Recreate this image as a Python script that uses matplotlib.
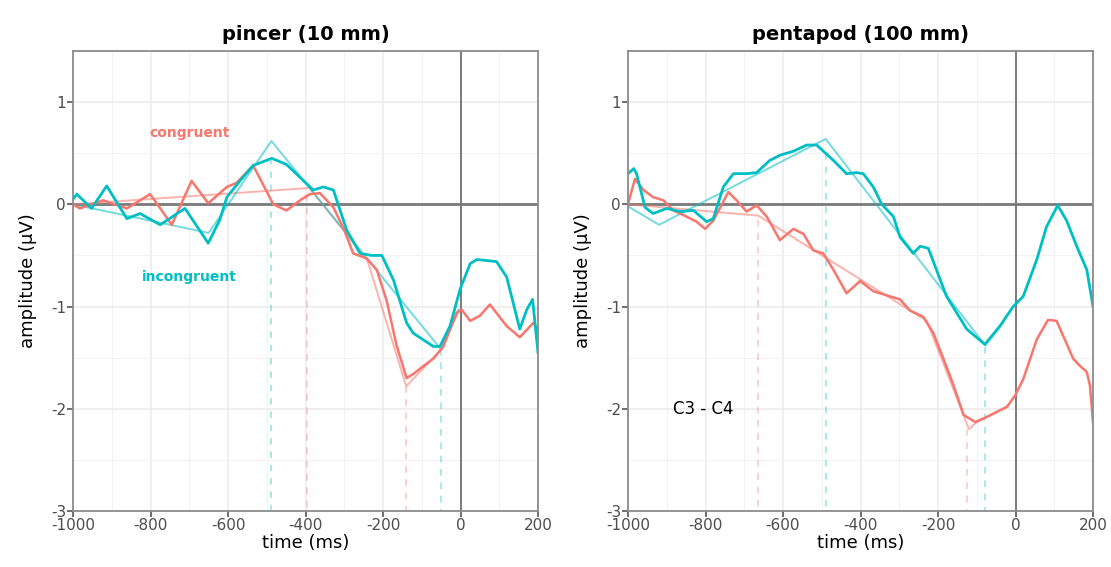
import matplotlib.pyplot as plt
from matplotlib.ticker import MultipleLocator

plt.rcParams['axes.unicode_minus'] = False

RED = '#F8766D'
CYAN = '#00BFC4'

# ---- pincer (10 mm) ----
p_t_con = [-1000, -982, -922, -861, -801, -745, -694, -651, -603, -578, -535, -483, -449,
           -410, -388, -363, -328, -300, -277, -242, -216, -190, -165, -139, -122, -95,
           -70, -44, -10, 3, 25, 50, 76, 119, 153, 188, 200]
p_v_con = [0.0, -0.04, 0.04, -0.04, 0.1, -0.2, 0.23, 0.01, 0.17, 0.21, 0.38, 0.0, -0.06,
           0.05, 0.10, 0.11, -0.03, -0.25, -0.48, -0.53, -0.64, -0.95, -1.38, -1.70,
           -1.66, -1.58, -1.51, -1.39, -1.06, -1.03, -1.14, -1.09, -0.98, -1.19, -1.3,
           -1.16, -1.22]
p_t_inc = [-1000, -990, -952, -913, -861, -827, -775, -711, -651, -621, -603, -569, -535,
           -487, -449, -380, -354, -328, -294, -259, -229, -203, -173, -139, -122, -70,
           -53, -27, -1, 25, 42, 93, 119, 153, 171, 186, 200]
p_v_inc = [0.05, 0.10, -0.04, 0.18, -0.14, -0.09, -0.2, -0.04, -0.38, -0.15, 0.07, 0.23,
           0.38, 0.45, 0.39, 0.14, 0.17, 0.14, -0.25, -0.48, -0.5, -0.5, -0.74, -1.16,
           -1.26, -1.39, -1.39, -1.19, -0.83, -0.58, -0.54, -0.56, -0.71, -1.22, -1.03,
           -0.93, -1.45]
p_fit_t_con = [-1000, -390, -240, -140, -50, -5]
p_fit_v_con = [0.0, 0.16, -0.55, -1.78, -1.42, -1.05]
p_fit_t_inc = [-1000, -650, -488, -50, -5]
p_fit_v_inc = [0.0, -0.28, 0.62, -1.42, -1.03]
p_dash_con = [(-395, 0.1), (-140, -1.78)]
p_dash_inc = [(-488, 0.45), (-50, -1.42)]

# ---- pentapod (100 mm) ----
q_t_con = [-1000, -982, -960, -935, -909, -883, -849, -823, -801, -780, -741, -720, -694,
           -668, -642, -608, -573, -547, -522, -496, -470, -436, -401, -367, -324, -298,
           -272, -238, -212, -186, -160, -134, -104, -74, -22, -1, 20, 55, 84, 106, 149,
           166, 184, 192, 200]
q_v_con = [0.0, 0.25, 0.14, 0.07, 0.04, -0.06, -0.12, -0.17, -0.24, -0.16, 0.12, 0.04,
           -0.07, -0.01, -0.12, -0.35, -0.24, -0.29, -0.45, -0.48, -0.64, -0.87, -0.75,
           -0.85, -0.9, -0.93, -1.04, -1.1, -1.26, -1.51, -1.77, -2.06, -2.13, -2.08,
           -1.98, -1.87, -1.71, -1.32, -1.13, -1.14, -1.51, -1.58, -1.64, -1.77, -2.13]
q_t_inc = [-1000, -985, -978, -956, -935, -900, -866, -831, -797, -780, -754, -728, -694,
           -668, -634, -608, -573, -539, -513, -496, -470, -436, -410, -393, -367, -345,
           -315, -298, -264, -246, -225, -178, -126, -79, -40, -6, 20, 55, 80, 109, 132,
           158, 184, 200]
q_v_inc = [0.3, 0.35, 0.3, -0.03, -0.09, -0.04, -0.07, -0.06, -0.17, -0.14, 0.17, 0.3,
           0.3, 0.31, 0.43, 0.48, 0.52, 0.58, 0.58, 0.52, 0.43, 0.3, 0.31, 0.3, 0.17, 0.0,
           -0.12, -0.32, -0.48, -0.41, -0.43, -0.9, -1.22, -1.37, -1.19, -1.0, -0.9,
           -0.54, -0.22, -0.01, -0.16, -0.41, -0.64, -1.0]
q_fit_t_con = [-1000, -664, -229, -120, -100, -20]
q_fit_v_con = [0.0, -0.11, -1.14, -2.2, -2.13, -1.98]
q_fit_t_inc = [-1000, -920, -490, -78, -40]
q_fit_v_inc = [-0.02, -0.2, 0.64, -1.38, -1.2]
q_dash_con = [(-665, -0.15), (-125, -2.2)]
q_dash_inc = [(-490, 0.5), (-78, -1.4)]

fig = plt.figure(figsize=(11.11, 5.67), dpi=100)
ax1 = fig.add_axes([73/1111, 1-511/567, 465/1111, 460/567])
ax2 = fig.add_axes([628/1111, 1-511/567, 465/1111, 460/567])


def panel(ax, title, tc, vc, ti, vi, ftc, fvc, fti, fvi, dc, di):
    ax.set_xlim(-1000, 200)
    ax.set_ylim(-3, 1.5)
    ax.xaxis.set_major_locator(MultipleLocator(200))
    ax.xaxis.set_minor_locator(MultipleLocator(100))
    ax.yaxis.set_major_locator(MultipleLocator(1))
    ax.yaxis.set_minor_locator(MultipleLocator(0.5))
    ax.grid(which='major', color='#ebebeb', lw=1.1)
    ax.grid(which='minor', color='#f2f2f2', lw=0.7)
    ax.set_axisbelow(True)
    ax.axhline(0, color='#7a7a7a', lw=2, zorder=1)
    ax.axvline(0, color='#7a7a7a', lw=1.4, zorder=1)
    for t, v in dc:
        ax.plot([t, t], [v, -3], color=RED, lw=1.2, ls=(0, (4, 4)), alpha=0.4)
    for t, v in di:
        ax.plot([t, t], [v, -3], color=CYAN, lw=1.2, ls=(0, (4, 4)), alpha=0.4)
    ax.plot(ftc, fvc, color=RED, lw=1.4, alpha=0.55)
    ax.plot(fti, fvi, color=CYAN, lw=1.4, alpha=0.55)
    ax.plot(tc, vc, color=RED, lw=1.8)
    ax.plot(ti, vi, color=CYAN, lw=2.0)
    for s in ax.spines.values():
        s.set_color('#8c8c8c')
        s.set_linewidth(1.3)
    ax.tick_params(which='major', colors='#555555', labelsize=11, length=4, width=1.2,
                   labelcolor='#4d4d4d', pad=1)
    ax.tick_params(which='minor', length=0)
    ax.set_title(title, fontsize=14, fontweight='bold', pad=8)
    ax.set_xlabel('time (ms)', fontsize=13, labelpad=1)
    ax.set_ylabel('amplitude (\u03bcV)', fontsize=13, labelpad=10)


panel(ax1, 'pincer (10 mm)', p_t_con, p_v_con, p_t_inc, p_v_inc,
      p_fit_t_con, p_fit_v_con, p_fit_t_inc, p_fit_v_inc, p_dash_con, p_dash_inc)
panel(ax2, 'pentapod (100 mm)', q_t_con, q_v_con, q_t_inc, q_v_inc,
      q_fit_t_con, q_fit_v_con, q_fit_t_inc, q_fit_v_inc, q_dash_con, q_dash_inc)

ax1.text(-700, 0.7, 'congruent', color=RED, fontsize=10, fontweight='bold',
         ha='center', va='center')
ax1.text(-700, -0.71, 'incongruent', color=CYAN, fontsize=10, fontweight='bold',
         ha='center', va='center')
ax2.text(-806, -2.0, 'C3 - C4', color='black', fontsize=12, ha='center', va='center')

fig.savefig('out.png', dpi=100)
